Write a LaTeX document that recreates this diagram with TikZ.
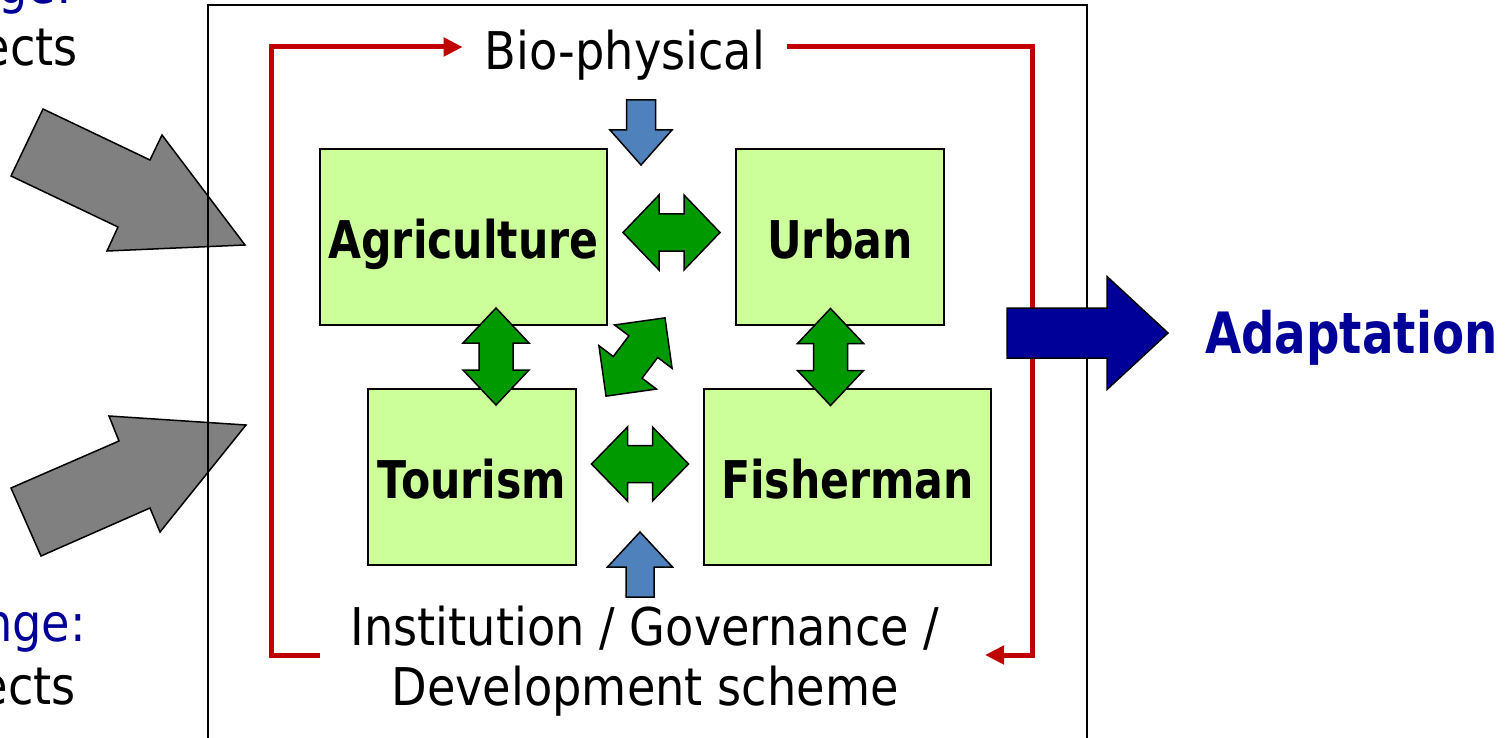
\documentclass[tikz,border=0pt]{standalone}
\usepackage{fontspec}
\setmainfont{DejaVu Sans}[FakeStretch=0.89]
\newfontfamily\boxfont{DejaVu Sans}[FakeStretch=0.82]
\usetikzlibrary{arrows.meta}

\definecolor{loopred}{HTML}{C00000}
\definecolor{sectorgreen}{HTML}{CCFF99}
\definecolor{linkgreen}{HTML}{009900}
\definecolor{driverblue}{HTML}{4F81BD}
\definecolor{navy}{HTML}{000099}
\definecolor{driftgray}{HTML}{808080}

\begin{document}
\begin{tikzpicture}[x=1pt, y=-1pt,
    every node/.style={inner sep=0pt, font=\fontsize{52}{60}\selectfont},
    sector/.style={draw, line width=2pt, fill=sectorgreen, minimum height=176pt,
        text height=42pt, text depth=0pt, font=\boxfont\bfseries\fontsize{52}{60}\selectfont},
    loopline/.style={loopred, line width=5pt, -{Triangle[length=19pt, width=18pt]}},
    pics/twoway/.style n args={4}{code={
        \draw[line width=1.5pt, fill=linkgreen]
            (-#1,0) -- (-#1+#2,-#3) -- (-#1+#2,-#4) -- (#1-#2,-#4) -- (#1-#2,-#3)
            -- (#1,0) -- (#1-#2,#3) -- (#1-#2,#4) -- (-#1+#2,#4) -- (-#1+#2,#3) -- cycle;
    }},
    pics/oneway/.style n args={5}{code={
        \draw[line width=1.5pt, fill=#1]
            (0,-#5) -- (#2-#3,-#5) -- (#2-#3,-#4) -- (#2,0) -- (#2-#3,#4)
            -- (#2-#3,#5) -- (0,#5) -- cycle;
    }}
]
    \useasboundingbox (0,0) rectangle (1512,738);
    \clip (0,0) rectangle (1512,738);

    % --- drivers coming in from the left ---
    \node[anchor=base east, text=navy] (topTag) at (72,4) {ge:};
    \node[anchor=base east] (topSub) at (78,66) {ects};
    \node[anchor=base east, text=navy] (lowTag) at (86,641) {nge:};
    \node[anchor=base east] (lowSub) at (76,704) {ects};

    \draw[line width=1.5pt, fill=driftgray]
        (43,109) -- (150,160) -- (162,135) -- (245,245) -- (107,251) -- (118,227) -- (11,176) -- cycle;
    \draw[line width=1.5pt, fill=driftgray]
        (11,488) -- (119,441) -- (109,416) -- (246,425) -- (160,532) -- (150,508) -- (41,556) -- cycle;

    % --- system frame ---
    \draw[line width=2pt] (208,5) rectangle (1087,760);

    % --- labels of the loop ---
    \node[anchor=base, inner xsep=22pt] (bio) at (625,70) {Bio-physical};
    \node[align=center] (gov) at (645,661) {Institution / Governance /\\Development scheme};

    \coordinate (cornerNW) at (271,47);
    \coordinate (cornerNE) at (1032,47);
    \coordinate (govL) at (320,655);
    \coordinate (govR) at (985,655);

    \draw[loopline] (govL) -| (cornerNW) -- (cornerNW -| bio.west);
    \draw[loopline] (cornerNE -| bio.east) -- (cornerNE) |- (govR);

    % --- sectors ---
    \node[sector, minimum width=287pt] (agri)  at (463.5,237) {Agriculture};
    \node[sector, minimum width=208pt] (urban) at (840,237)   {Urban};
    \node[sector, minimum width=208pt] (tour)  at (472,477)   {Tourism};
    \node[sector, minimum width=287pt] (fish)  at (847.5,477) {Fisherman};

    % --- interactions between sectors ---
    \pic at (671.5,232.5) {twoway={48.5}{36}{37.5}{18.5}};
    \pic at (640,464) {twoway={48.5}{36}{37}{18.5}};
    \pic[rotate=90] at (496,356.5) {twoway={48.5}{35}{33}{17}};
    \pic[rotate=90] at (830.5,357) {twoway={48.5}{35}{33}{17}};
    \pic[rotate=53] at (635.5,357) {twoway={49}{36}{36}{18}};

    % --- pressures from above and below ---
    \pic[rotate=-90] at (641,100) {oneway={driverblue}{65}{35}{31}{14.5}};
    \pic[rotate=90] at (640,597) {oneway={driverblue}{65}{35}{32.5}{14}};

    % --- outcome ---
    \pic at (1007,333) {oneway={navy}{161}{61}{56.5}{25}};
    \node[anchor=base west, text=navy, font=\boxfont\bfseries\fontsize{57}{60}\selectfont] (adapt) at (1205,353) {Adaptation};
\end{tikzpicture}
\end{document}
